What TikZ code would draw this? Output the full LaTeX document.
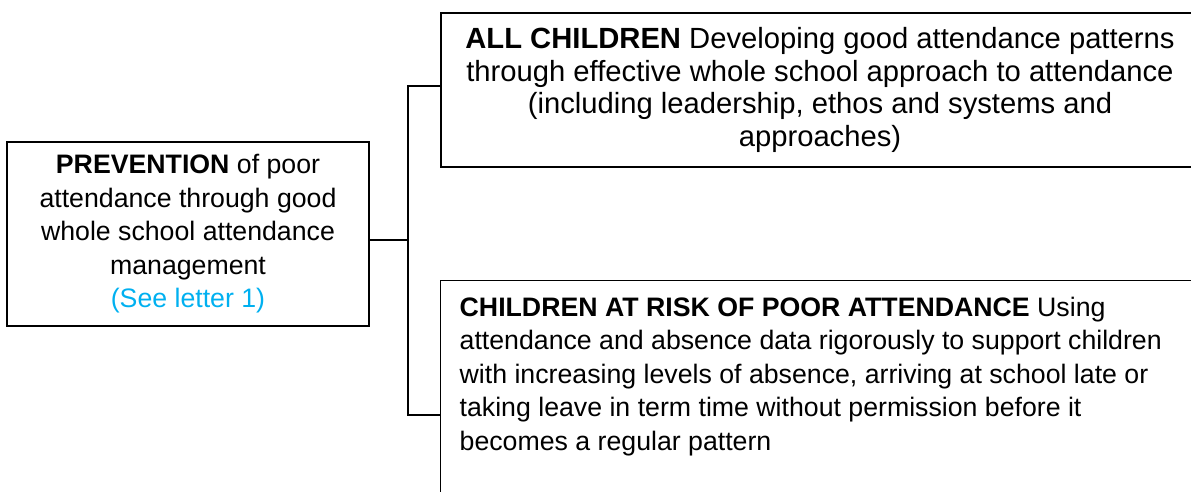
\documentclass[tikz,border=0pt]{standalone}
\usepackage{fontspec}
\setmainfont{Liberation Sans}
\definecolor{seeblue}{RGB}{0,176,240}
\tikzset{
  box/.style={draw, line width=0.7pt, align=center},
  small/.style={font=\fontsize{13.35}{16.75}\selectfont},
  large/.style={font=\fontsize{14.6}{16.3}\selectfont},
  link/.style={line width=0.7pt}
}
\begin{document}
\begin{tikzpicture}[x=0.5pt, y=-0.5pt]
  \useasboundingbox (0,0) rectangle (1191,492);
  \node[box, small, minimum width=181pt, minimum height=92pt] (prevention) at (188,234)
    {\textbf{PREVENTION} of poor\\ attendance through good\\ whole school attendance\\ management\\ \textcolor{seeblue}{(See letter 1)}};
  \node[box, large, minimum width=379pt, minimum height=77pt] (all) at (820,90)
    {\textbf{ALL CHILDREN} Developing good attendance patterns\\ through effective whole school approach to attendance\\ (including leadership, ethos and systems and\\ approaches)};
  \node[box, small, anchor=north west, inner xsep=9.5pt, inner ysep=8pt] (risk) at (440,280)
    {\parbox[c][100pt][t]{360pt}{\raggedright \textbf{CHILDREN AT RISK OF POOR ATTENDANCE} Using\\ attendance and absence data rigorously to support children\\ with increasing levels of absence, arriving at school late or\\ taking leave in term time without permission before it\\ becomes a regular pattern}};

  \coordinate (fork) at (408,240);
  \coordinate (forktop) at (408,86);
  \coordinate (forkbot) at (408,415);
  \draw[link] (prevention.east |- fork) -- (fork);
  \draw[link] (forktop -| all.west) -- (forktop) -- (forkbot) -- (forkbot -| risk.west);
\end{tikzpicture}
\end{document}
